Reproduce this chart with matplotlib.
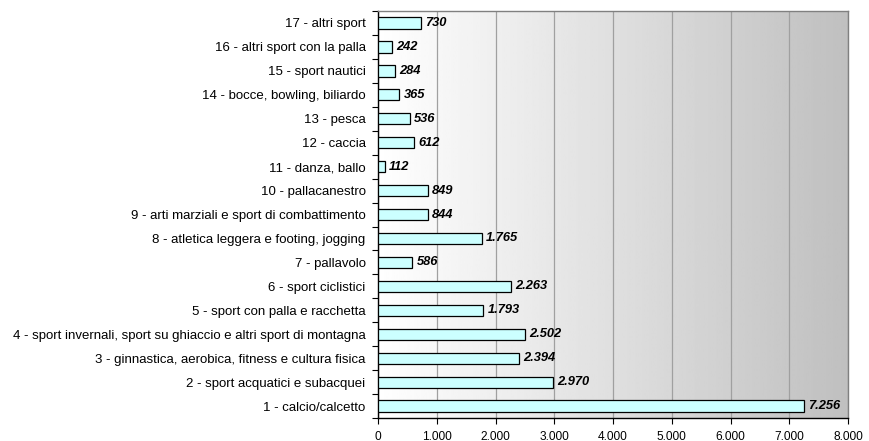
import numpy as np
import matplotlib
matplotlib.use("Agg")
import matplotlib.pyplot as plt
from matplotlib.ticker import FixedLocator, FuncFormatter

plt.rcParams['font.family'] = ['Liberation Sans', 'DejaVu Sans']

categories = [
    "1 - calcio/calcetto",
    "2 - sport acquatici e subacquei",
    "3 - ginnastica, aerobica, fitness e cultura fisica",
    "4 - sport invernali, sport su ghiaccio e altri sport di montagna",
    "5 - sport con palla e racchetta",
    "6 - sport ciclistici",
    "7 - pallavolo",
    "8 - atletica leggera e footing, jogging",
    "9 - arti marziali e sport di combattimento",
    "10 - pallacanestro",
    "11 - danza, ballo",
    "12 - caccia",
    "13 - pesca",
    "14 - bocce, bowling, biliardo",
    "15 - sport nautici",
    "16 - altri sport con la palla",
    "17 - altri sport",
]
values = [7256, 2970, 2394, 2502, 1793, 2263, 586, 1765, 844, 849,
          112, 612, 536, 365, 284, 242, 730]
x_ticks = [0, 1000, 2000, 3000, 4000, 5000, 6000, 7000, 8000]


def it_num(v, pos=None):
    return "{:,.0f}".format(v).replace(",", ".")


fig = plt.figure(figsize=(8.69, 4.41), dpi=100)
ax = fig.add_axes([0.435, 0.052, 0.541, 0.923])

# gradient background, white -> grey
grad = np.linspace(1.0, 0.75, 256).reshape(1, -1)
ax.imshow(grad, cmap="gray", vmin=0, vmax=1, aspect="auto",
          extent=[0, 1, 0, 1], transform=ax.transAxes, zorder=0)

y = np.arange(len(categories))
ax.barh(y, values, height=0.47, color="#ccffff", edgecolor="black",
        linewidth=0.9, zorder=3)

for yi, v in zip(y, values):
    ax.annotate(it_num(v), xy=(v, yi), xytext=(3, 0),
                textcoords="offset points", va="center", ha="left",
                fontsize=9.3, fontweight="bold", fontstyle="italic", zorder=4)

ax.set_xlim(0, 8000)
ax.set_ylim(-0.5, len(categories) - 0.5)
ax.xaxis.set_major_locator(FixedLocator(x_ticks))
ax.xaxis.set_major_formatter(FuncFormatter(it_num))
ax.grid(axis="x", color="#a0a0a0", linewidth=0.9, zorder=1)
ax.set_axisbelow(True)

ax.set_yticks(y)
ax.set_yticklabels(categories)
ax.set_yticks(np.arange(-0.5, len(categories), 1), minor=True)
ax.tick_params(axis="y", which="major", length=0, pad=9, labelsize=9.5)
ax.tick_params(axis="y", which="minor", length=4, width=0.8, direction="out")
ax.tick_params(axis="x", length=4, width=0.8, direction="out", labelsize=8.6,
               pad=5)

ax.spines["left"].set_color("black")
ax.spines["bottom"].set_color("black")
ax.spines["top"].set_color("#808080")
ax.spines["right"].set_color("#808080")
for s in ax.spines.values():
    s.set_linewidth(1.0)

fig.savefig("out.png", dpi=100)
